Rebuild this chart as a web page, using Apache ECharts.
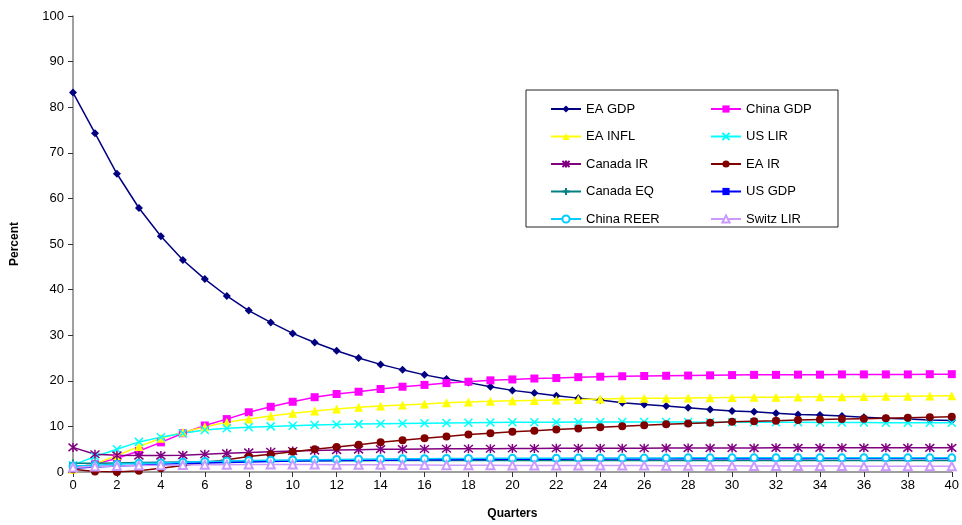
<!DOCTYPE html>
<html>
	<head>
		<meta charset="utf-8" />
		<title>Quarters</title>
		<style>
			html, body { margin: 0; padding: 0; background: #fff; }
			#main { width: 962px; height: 525px; }
		</style>
	</head>
	<body>
		<div id="main"></div>

		<script type="text/javascript" src="https://cdn.jsdelivr.net/npm/echarts@6/dist/echarts.min.js"></script>
		<script type="text/javascript">
			// quarters 0..40
			var quarters = [];
			for (var q = 0; q <= 40; q++) quarters.push(q);

			var eaGdp = [83.2, 74.3, 65.4, 57.9, 51.7, 46.5, 42.3, 38.6, 35.4, 32.8,
				30.4, 28.4, 26.6, 25.0, 23.6, 22.4, 21.3, 20.4, 19.6, 18.7,
				17.9, 17.3, 16.7, 16.2, 15.8, 15.2, 14.8, 14.5, 14.1, 13.7,
				13.4, 13.2, 12.9, 12.6, 12.5, 12.3, 12.0, 11.8, 11.6, 11.4, 11.3];
			var chinaGdp = [1.0, 1.7, 3.0, 4.6, 6.5, 8.5, 10.2, 11.6, 13.1, 14.3,
				15.4, 16.4, 17.1, 17.6, 18.2, 18.7, 19.1, 19.5, 19.8, 20.1,
				20.3, 20.5, 20.6, 20.8, 20.9, 21.0, 21.05, 21.1, 21.15, 21.2,
				21.25, 21.3, 21.3, 21.35, 21.35, 21.4, 21.4, 21.4, 21.4, 21.45, 21.45];
			var eaInfl = [0.6, 1.8, 3.6, 5.6, 7.4, 8.7, 9.9, 10.9, 11.6, 12.3,
				12.9, 13.4, 13.8, 14.2, 14.5, 14.7, 14.9, 15.2, 15.35, 15.5,
				15.6, 15.7, 15.8, 15.9, 16.0, 16.1, 16.15, 16.2, 16.25, 16.3,
				16.35, 16.4, 16.4, 16.45, 16.5, 16.5, 16.55, 16.6, 16.6, 16.65, 16.7];
			var usLir = [1.5, 3.4, 5.0, 6.6, 7.6, 8.5, 9.2, 9.6, 9.8, 10.0,
				10.15, 10.3, 10.4, 10.5, 10.6, 10.65, 10.7, 10.75, 10.8, 10.85,
				10.9, 10.9, 10.9, 10.95, 10.95, 10.95, 10.95, 10.95, 10.95, 10.9,
				10.9, 10.9, 10.9, 10.9, 10.85, 10.85, 10.85, 10.8, 10.8, 10.8, 10.8];
			var canadaIr = [5.4, 3.9, 3.65, 3.6, 3.6, 3.7, 3.9, 4.1, 4.3, 4.45,
				4.6, 4.7, 4.8, 4.9, 5.0, 5.0, 5.05, 5.1, 5.1, 5.1,
				5.15, 5.15, 5.2, 5.2, 5.2, 5.2, 5.2, 5.25, 5.25, 5.25,
				5.25, 5.25, 5.3, 5.3, 5.3, 5.3, 5.3, 5.3, 5.3, 5.3, 5.3];
			var eaIr = [0.6, 0.1, 0.0, 0.3, 0.8, 1.4, 2.1, 2.7, 3.4, 3.9,
				4.45, 5.0, 5.5, 6.0, 6.5, 6.95, 7.4, 7.8, 8.2, 8.5,
				8.8, 9.05, 9.3, 9.55, 9.8, 10.05, 10.25, 10.45, 10.65, 10.8,
				11.0, 11.15, 11.25, 11.4, 11.5, 11.6, 11.7, 11.8, 11.9, 12.0, 12.1];
			var canadaEq = [1.9, 1.9, 2.0, 2.1, 2.15, 2.2, 2.25, 2.3, 2.35, 2.4,
				2.4, 2.45, 2.45, 2.45, 2.5, 2.5, 2.5, 2.5, 2.5, 2.5,
				2.5, 2.5, 2.5, 2.5, 2.5, 2.5, 2.5, 2.5, 2.5, 2.5,
				2.5, 2.5, 2.5, 2.5, 2.5, 2.5, 2.5, 2.5, 2.5, 2.5, 2.5];
			var usGdp = [0.8, 1.1, 1.3, 1.5, 1.7, 1.85, 2.0, 2.1, 2.2, 2.3,
				2.4, 2.45, 2.5, 2.55, 2.6, 2.65, 2.7, 2.7, 2.75, 2.75,
				2.8, 2.8, 2.8, 2.85, 2.85, 2.85, 2.85, 2.9, 2.9, 2.9,
				2.9, 2.9, 2.9, 2.9, 2.95, 2.95, 2.95, 2.95, 2.95, 2.95, 2.95];
			var chinaReer = [1.3, 1.5, 1.7, 1.9, 2.0, 2.15, 2.3, 2.4, 2.5, 2.6,
				2.65, 2.7, 2.75, 2.8, 2.85, 2.9, 2.9, 2.95, 2.95, 3.0,
				3.0, 3.0, 3.0, 3.05, 3.05, 3.05, 3.05, 3.05, 3.1, 3.1,
				3.1, 3.1, 3.1, 3.1, 3.1, 3.1, 3.1, 3.1, 3.1, 3.1, 3.1];
			var switzLir = [1.0, 1.2, 1.3, 1.4, 1.5, 1.55, 1.6, 1.6, 1.65, 1.65,
				1.65, 1.65, 1.6, 1.6, 1.6, 1.55, 1.55, 1.5, 1.5, 1.5,
				1.45, 1.45, 1.45, 1.4, 1.4, 1.4, 1.4, 1.35, 1.35, 1.35,
				1.35, 1.3, 1.3, 1.3, 1.3, 1.3, 1.25, 1.25, 1.25, 1.25, 1.25];

			// legend columns as in the original
			var legendLeft = ['EA GDP', 'EA INFL', 'Canada IR', 'Canada EQ', 'China REER'];
			var legendRight = ['China GDP', 'US LIR', 'EA IR', 'US GDP', 'Switz LIR'];

			var FONT = 'Liberation Sans, Arial, sans-serif';

			// stroked marker shapes (excel x / star / plus)
			var markX = 'path://M0,0L10,10M10,0L0,10';
			var markStar = 'path://M0,0L10,10M10,0L0,10M5,-1L5,11';
			var markPlus = 'path://M5,0L5,10M0,5L10,5';

			function pairs(arr) {
				return quarters.map(function (q, i) { return [q, arr[i]]; });
			}

			function line(name, data, color, symbol, size, stroked) {
				var s = {
					name: name,
					type: 'line',
					data: pairs(data),
					symbol: symbol,
					symbolSize: size,
					showSymbol: true,
					lineStyle: { color: color, width: 1.5 },
					itemStyle: { color: color }
				};
				if (stroked) {
					s.itemStyle.borderColor = color;
					s.itemStyle.borderWidth = 1.5;
				}
				return s;
			}

			var chart = echarts.init(document.getElementById('main'));

			var option = {
				animation: false,
				backgroundColor: '#fff',
				textStyle: { fontFamily: FONT },
				grid: { left: 73, right: 7, top: 16, bottom: 53 },
				graphic: [{
					type: 'rect',
					z: 3,
					shape: { x: 526, y: 90, width: 312, height: 137 },
					style: { fill: '#fff', stroke: '#222', lineWidth: 1 }
				}],
				legend: [{
					data: legendLeft,
					orient: 'vertical',
					left: 545, top: 97,
					itemWidth: 30, itemHeight: 9, itemGap: 13.5,
					textStyle: { fontSize: 13, color: '#000', fontFamily: FONT, lineHeight: 14 },
					z: 5
				}, {
					data: legendRight,
					orient: 'vertical',
					left: 705, top: 97,
					itemWidth: 30, itemHeight: 9, itemGap: 13.5,
					textStyle: { fontSize: 13, color: '#000', fontFamily: FONT, lineHeight: 14 },
					z: 5
				}],
				xAxis: {
					type: 'value',
					min: 0, max: 40, interval: 2,
					name: 'Quarters',
					nameLocation: 'middle',
					nameGap: 36,
					nameTextStyle: { fontWeight: 'bold', fontSize: 12, color: '#000' },
					axisLine: { lineStyle: { color: '#808080', width: 1.5 } },
					axisTick: { lineStyle: { color: '#333' }, length: 5 },
					axisLabel: { fontSize: 13, color: '#000', margin: 7 },
					splitLine: { show: false }
				},
				yAxis: {
					type: 'value',
					min: 0, max: 100, interval: 10,
					name: 'Percent',
					nameLocation: 'middle',
					nameGap: 52,
					nameRotate: 90,
					nameTextStyle: { fontWeight: 'bold', fontSize: 12, color: '#000' },
					axisLine: { show: true, lineStyle: { color: '#808080', width: 1.5 } },
					axisTick: { show: true, lineStyle: { color: '#333' }, length: 5 },
					axisLabel: { fontSize: 13, color: '#000', margin: 9 },
					splitLine: { show: false }
				},
				series: [
					line('EA GDP', eaGdp, '#000080', 'diamond', 8),
					line('China GDP', chinaGdp, '#ff00ff', 'rect', 8),
					line('EA INFL', eaInfl, '#ffff00', 'triangle', 9),
					line('US LIR', usLir, '#00ffff', markX, 8, true),
					line('Canada IR', canadaIr, '#800080', markStar, 9, true),
					line('EA IR', eaIr, '#800000', 'circle', 8),
					line('Canada EQ', canadaEq, '#008080', markPlus, 8, true),
					line('US GDP', usGdp, '#0000ff', 'rect', [5, 2]),
					line('China REER', chinaReer, '#00ccff', 'emptyCircle', 7),
					line('Switz LIR', switzLir, '#cc99ff', 'emptyTriangle', 8)
				]
			};

			chart.setOption(option);
		</script>
	</body>
</html>
